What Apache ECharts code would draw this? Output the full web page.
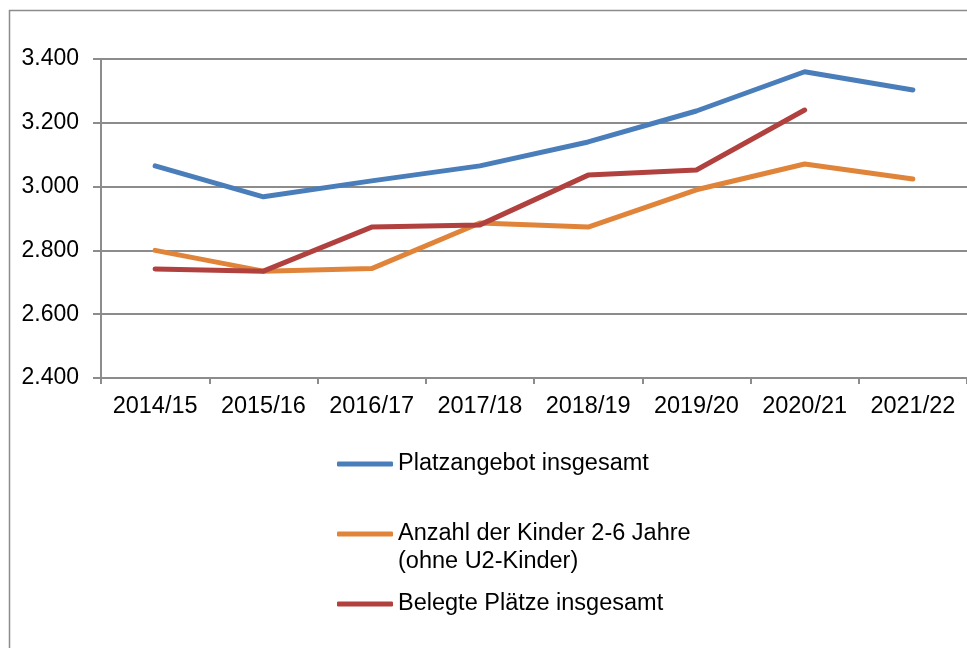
<!DOCTYPE html>
<html>
<head>
<meta charset="utf-8">
<script src="https://cdn.jsdelivr.net/npm/echarts@6/dist/echarts.min.js"></script>
<style>
  html, body { margin: 0; padding: 0; background: #fff; }
  #chart { width: 967px; height: 648px; }
</style>
</head>
<body>
<div id="chart"></div>
<script>
// Schuljahre
var years = ['2014/15', '2015/16', '2016/17', '2017/18', '2018/19', '2019/20', '2020/21', '2021/22']

// Werte
var platzangebot = [3065, 2968, 3018, 3065, 3140, 3237, 3360, 3303]
var kinder = [2800, 2735, 2743, 2886, 2873, 2990, 3071, 3024]
var belegt = [2742, 2735, 2873, 2880, 3036, 3052, 3240, null]

var names = [
  'Platzangebot insgesamt',
  'Anzahl der Kinder 2-6 Jahre\n(ohne U2-Kinder)',
  'Belegte Plätze insgesamt',
]

var yMin = 2400
var yMax = 3400
var yStep = 200

var font = "'Liberation Sans', Arial, sans-serif"
var gray = '#8c8c8c'

var myChart = echarts.init(document.getElementById('chart'))

function line(name, data, color) {
  return {
    name: name,
    type: 'line',
    data: data,
    symbol: 'none',
    smooth: false,
    lineStyle: { width: 5, color: color, cap: 'round', join: 'round' },
    itemStyle: { color: color },
  }
}

var option = {
  animation: false,
  backgroundColor: '#fff',
  textStyle: { fontFamily: font },
  graphic: [
    {
      type: 'rect',
      shape: { x: 9.5, y: 10.5, width: 1100, height: 800 },
      style: { fill: 'none', stroke: gray, lineWidth: 1.5 },
      z: -10,
    },
  ],
  grid: {
    left: 101,
    top: 59,
    width: 882,
    height: 319,
    containLabel: false,
  },
  xAxis: {
    type: 'category',
    data: years,
    boundaryGap: true,
    axisLine: { lineStyle: { color: gray, width: 2 } },
    axisTick: { show: true, interval: 0, length: 6, lineStyle: { color: gray, width: 2 } },
    axisLabel: { color: '#000', fontSize: 23.5, margin: 17, interval: 0, hideOverlap: false, fontFamily: font },
  },
  yAxis: {
    type: 'value',
    min: yMin,
    max: yMax,
    interval: yStep,
    axisLine: { show: true, lineStyle: { color: gray, width: 2 } },
    axisTick: { show: true, length: 8, lineStyle: { color: gray, width: 2 } },
    splitLine: { lineStyle: { color: gray, width: 2 } },
    axisLabel: {
      color: '#000',
      fontSize: 23,
      margin: 22,
      padding: [6, 0, 0, 0],
      fontFamily: font,
      formatter: function (v) {
        return (v / 1000).toFixed(3)
      },
    },
  },
  legend: {
    orient: 'vertical',
    left: 337,
    top: 450,
    padding: 0,
    itemGap: 14,
    itemWidth: 56,
    itemHeight: 5,
    icon: 'roundRect',
    textStyle: { color: '#000', fontSize: 23.5, lineHeight: 28, fontFamily: font },
    // zweizeiliger Eintrag: Linie auf Höhe der ersten Zeile
    formatter: function (name) {
      return name === names[1] ? '\n' + name : name
    },
    data: names,
  },
  series: [
    line(names[0], platzangebot, '#4a7ebb'),
    line(names[1], kinder, '#e0843a'),
    line(names[2], belegt, '#b0413e'),
  ],
}

myChart.setOption(option)
</script>
</body>
</html>
